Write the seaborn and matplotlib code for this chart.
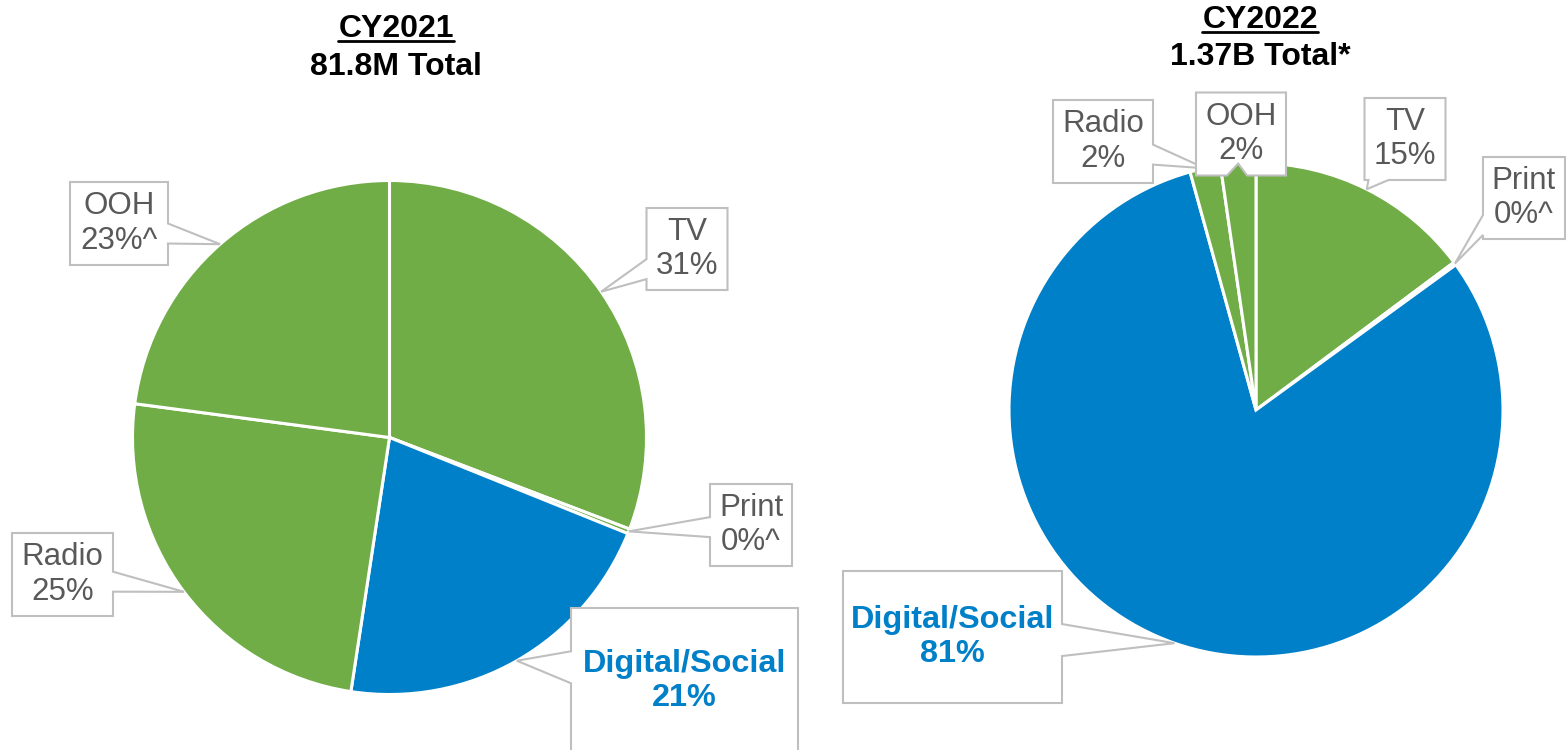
import numpy as np
import matplotlib
matplotlib.use("Agg")
import matplotlib.pyplot as plt
import seaborn as sns
from matplotlib.path import Path
from matplotlib.lines import Line2D

# ---------------- data ----------------
channels = ['TV', 'Print', 'Digital/Social', 'Radio', 'OOH']
share_2021 = [30.8, 0.3, 21.3, 24.7, 22.9]
share_2022 = [14.8, 0.2, 80.7, 2.0, 2.3]
pct_2021 = ['31%', '0%^', '21%', '25%', '23%^']
pct_2022 = ['15%', '0%^', '81%', '2%', '2%']
years = ['CY2021', 'CY2022']
totals = ['81.8M Total', '1.37B Total*']

# ---------------- style ----------------
sns.set_theme(style='white')
plt.rcParams['font.family'] = ['Liberation Sans', 'DejaVu Sans']

GREEN = '#70AD47'
BLUE = '#0080C8'
GREY_TXT = '#595959'
GREY_EDGE = '#BFBFBF'
W, H = 1566, 750

colors = [GREEN, GREEN, BLUE, GREEN, GREEN]

# layout, in image pixels (y measured from the top): (cx, cy, w, h, pointer half width)
pie_layout = [
    dict(center=(389.5, 437.5), radius=257,
         boxes=[(687, 249, 81, 82, 10), (751, 525, 82, 82, 10), (684.5, 681, 227, 146, 16),
                (62.5, 574.5, 101, 83, 10), (119, 223.5, 98, 83, 10)],
         title_x=396, title_y=(29, 67)),
    dict(center=(1256, 410), radius=247,
         boxes=[(1405, 139, 81, 82, 10), (1524, 198, 82, 82, 10), (952.5, 637, 219, 132, 16),
                (1103, 141.5, 100, 83, 10), (1241, 134, 90, 83, 10)],
         title_x=1260, title_y=(20, 57)),
]


def callout_box(bw, bh, hw, anchor, tip):
    # rectangle of fixed pixel size centred on the text, with a pointer to tip.
    # the box path is in the text's local frame, so shift the tip into it.
    def style(x0, y0, width, height, mutation_size):
        cx, cy = x0 + width / 2, y0 + height / 2
        l, r = cx - bw / 2, cx + bw / 2
        b, t = cy - bh / 2, cy + bh / 2
        ax_, ay_ = ax.transData.transform(anchor)
        px, py = ax.transData.transform(tip)
        tx, ty = px - ax_ + cx, py - ay_ + cy
        dx, dy = tx - cx, ty - cy
        sx = (bw / 2) / abs(dx) if dx else np.inf
        sy = (bh / 2) / abs(dy) if dy else np.inf
        m = 4
        if sx < sy:
            yy = np.clip(cy + dy * sx, b + m + hw, t - m - hw)
            if dx > 0:
                pts = [(l, b), (r, b), (r, yy - hw), (tx, ty), (r, yy + hw), (r, t), (l, t)]
            else:
                pts = [(l, b), (r, b), (r, t), (l, t), (l, yy + hw), (tx, ty), (l, yy - hw)]
        else:
            xx = np.clip(cx + dx * sy, l + m + hw, r - m - hw)
            if dy < 0:
                pts = [(l, b), (xx - hw, b), (tx, ty), (xx + hw, b), (r, b), (r, t), (l, t)]
            else:
                pts = [(l, b), (r, b), (r, t), (xx + hw, t), (tx, ty), (xx - hw, t), (l, t)]
        pts.append(pts[0])
        return Path(pts, closed=True)
    return style


fig = plt.figure(figsize=(W / 100, H / 100), dpi=100)
ax = fig.add_axes([0, 0, 1, 1])

title_texts = []
for shares, pcts, lay, year, total in zip([share_2021, share_2022], [pct_2021, pct_2022],
                                          pie_layout, years, totals):
    cx, cy = lay['center'][0], H - lay['center'][1]
    r = lay['radius']
    wedges, _ = ax.pie(shares, colors=colors, startangle=90, counterclock=False,
                       center=(cx, cy), radius=r,
                       wedgeprops=dict(edgecolor='white', linewidth=2.2))

    for w, name, pct, box in zip(wedges, channels, pcts, lay['boxes']):
        ang = np.deg2rad((w.theta1 + w.theta2) / 2)
        tip = (cx + r * np.cos(ang), cy + r * np.sin(ang))
        pos = (box[0], H - box[1])
        is_digital = name == 'Digital/Social'
        ax.text(pos[0], pos[1], f'{name}\n{pct}',
                ha='center', va='center', multialignment='center',
                fontsize=23.3 if is_digital else 22.5, linespacing=1.2,
                color=BLUE if is_digital else GREY_TXT,
                fontweight='bold' if is_digital else 'normal',
                bbox=dict(boxstyle=callout_box(box[2], box[3], box[4], pos, tip),
                          fc='white', ec=GREY_EDGE, lw=1.5),
                zorder=5)

    t1 = ax.text(lay['title_x'], H - lay['title_y'][0], year, ha='center', va='center',
                 fontsize=23, fontweight='bold', color='black')
    ax.text(lay['title_x'], H - lay['title_y'][1], total, ha='center', va='center',
            fontsize=23, fontweight='bold', color='black')
    title_texts.append(t1)

ax.set_xlim(0, W)
ax.set_ylim(0, H)
ax.set_aspect('equal')
ax.axis('off')

# underline the year titles
fig.canvas.draw()
for t in title_texts:
    bb = t.get_window_extent().transformed(fig.transFigure.inverted())
    y = bb.y0 + 0.004
    fig.add_artist(Line2D([bb.x0, bb.x1], [y, y], transform=fig.transFigure,
                          color='black', lw=2))

fig.savefig('out.png', dpi=100)
